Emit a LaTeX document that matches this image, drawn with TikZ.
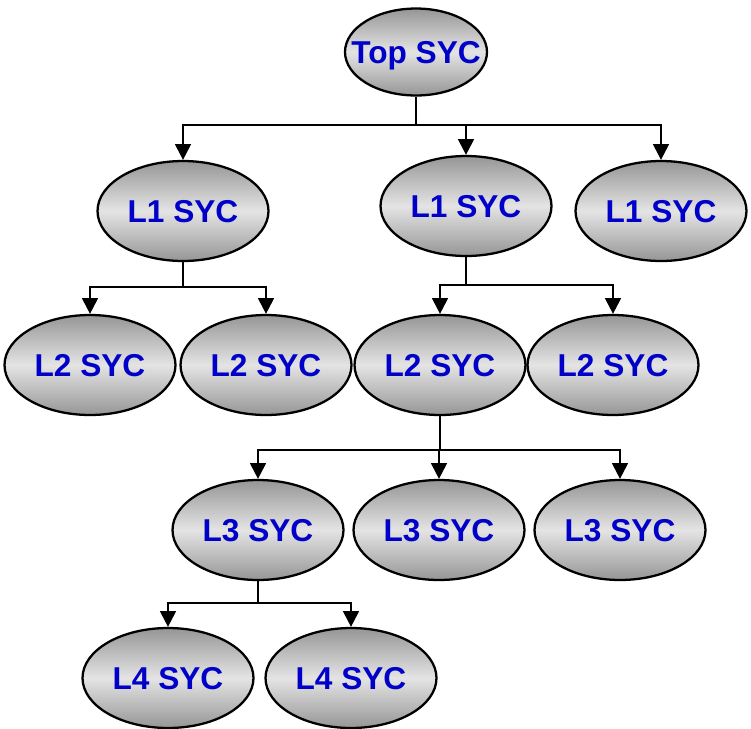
\documentclass[tikz,border=0pt]{standalone}
\usepackage{fontspec}
\setmainfont{Liberation Sans}
\usetikzlibrary{shapes.geometric,arrows.meta}
\definecolor{syctext}{RGB}{0,0,200}
\definecolor{shadeedge}{RGB}{150,150,150}
\definecolor{shademid}{RGB}{228,228,228}
\tikzset{
  syc/.style={ellipse, draw=black, line width=1.3pt, minimum width=3.42cm, minimum height=2.0cm, inner sep=0pt,
    text depth=0pt,
    top color=shadeedge, bottom color=shadeedge, middle color=shademid,
    text=syctext, font=\fontsize{18}{20}\selectfont\bfseries},
  conn/.style={line width=1.3pt, draw=black},
  arr/.style={conn, -{Triangle[length=9pt,width=9pt]}}
}
\begin{document}
\begin{tikzpicture}[x=0.02cm,y=-0.02cm]
\useasboundingbox (0,0) rectangle (751,728);
\node[syc, minimum width=2.84cm, minimum height=1.74cm, inner xsep=-0.3cm] (top) at (416,52) {Top SYC};
\node[syc] (a1) at (183,211) {L1 SYC};
\node[syc] (a2) at (466,206) {L1 SYC};
\node[syc] (a3) at (661,211) {L1 SYC};
\node[syc] (b1) at (90,365) {L2 SYC};
\node[syc] (b2) at (266,365) {L2 SYC};
\node[syc] (b3) at (440,365) {L2 SYC};
\node[syc] (b4) at (613,365) {L2 SYC};
\node[syc] (c1) at (258,530) {L3 SYC};
\node[syc] (c2) at (439,530) {L3 SYC};
\node[syc] (c3) at (620,530) {L3 SYC};
\node[syc] (d1) at (168,678) {L4 SYC};
\node[syc] (d2) at (351,678) {L4 SYC};
\coordinate (j0) at (416,125);
\coordinate (j1) at (183,287);
\coordinate (j2) at (466,285);
\coordinate (j3) at (439,450);
\coordinate (j4) at (258,603);
\draw[conn] (top.south) -- (j0);
\draw[arr] (j0) -| (a1.north);
\draw[arr] (j0) -| (a2.north);
\draw[arr] (j0) -| (a3.north);
\draw[conn] (a1.south) -- (j1);
\draw[arr] (j1) -| (b1.north);
\draw[arr] (j1) -| (b2.north);
\draw[conn] (a2.south) -- (j2);
\draw[arr] (j2) -| (b3.north);
\draw[arr] (j2) -| (b4.north);
\draw[conn] (b3.south) -- (b3.south |- j3);
\draw[arr] (j3) -| (c1.north);
\draw[arr] (j3) -- (c2.north);
\draw[arr] (j3) -| (c3.north);
\draw[conn] (c1.south) -- (j4);
\draw[arr] (j4) -| (d1.north);
\draw[arr] (j4) -| (d2.north);
\end{tikzpicture}
\end{document}
